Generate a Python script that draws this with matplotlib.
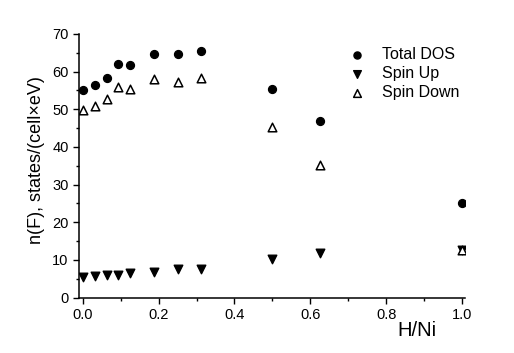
import matplotlib
matplotlib.use("Agg")
import matplotlib.pyplot as plt
from matplotlib.ticker import MultipleLocator

plt.rcParams['font.family'] = ['Liberation Sans', 'DejaVu Sans']

# H/Ni ratio
h_ni = [0.0, 0.03125, 0.0625, 0.09375, 0.125, 0.1875, 0.25, 0.3125, 0.5, 0.625, 1.0]

# n(F), states/(cell x eV)
total_dos = [55.1, 56.3, 58.3, 61.9, 61.8, 64.7, 64.7, 65.5, 55.4, 47.0, 25.2]
spin_up = [5.4, 5.6, 5.9, 5.9, 6.5, 6.9, 7.7, 7.5, 10.2, 11.8, 12.5]
spin_down = [49.8, 50.8, 52.6, 56.0, 55.4, 57.9, 57.3, 58.2, 45.4, 35.3, 12.7]

fig = plt.figure(figsize=(5.14, 3.53), dpi=100)
ax = fig.add_axes([0.154, 0.157, 0.751, 0.747])

ax.scatter(h_ni, total_dos, marker='o', s=32, color='black', label='Total DOS', zorder=3)
ax.scatter(h_ni, spin_up, marker='v', s=38, color='black', label='Spin Up', zorder=3)
ax.scatter(h_ni, spin_down, marker='^', s=38, facecolor='white', edgecolor='black',
           linewidth=1.1, label='Spin Down', zorder=4)

ax.set_xlim(-0.0098, 1.0087)
ax.set_ylim(0, 70)
ax.xaxis.set_major_locator(MultipleLocator(0.2))
ax.xaxis.set_minor_locator(MultipleLocator(0.1))
ax.yaxis.set_major_locator(MultipleLocator(10))
ax.yaxis.set_minor_locator(MultipleLocator(5))
ax.xaxis.set_major_formatter(matplotlib.ticker.FormatStrFormatter('%.1f'))

ax.spines['top'].set_visible(False)
ax.spines['right'].set_visible(False)
for s in ['left', 'bottom']:
    ax.spines[s].set_linewidth(1.1)
ax.tick_params(which='major', direction='out', length=4, width=1.0, labelsize=10.5)
ax.tick_params(which='minor', direction='out', length=2.5, width=1.0)

ax.set_ylabel('n(F), states/(cell\u00d7eV)', fontsize=13)
ax.yaxis.set_label_coords(-0.088, 0.52)
ax.set_xlabel('H/Ni', fontsize=14.5)
ax.xaxis.set_label_coords(0.876, -0.09)

ax.legend(loc='upper left', bbox_to_anchor=(0.64, 1.004), frameon=False, fontsize=11.5,
          handletextpad=0.6, labelspacing=0.25, scatterpoints=1, markerscale=0.9)

fig.savefig('out.png', dpi=100)
